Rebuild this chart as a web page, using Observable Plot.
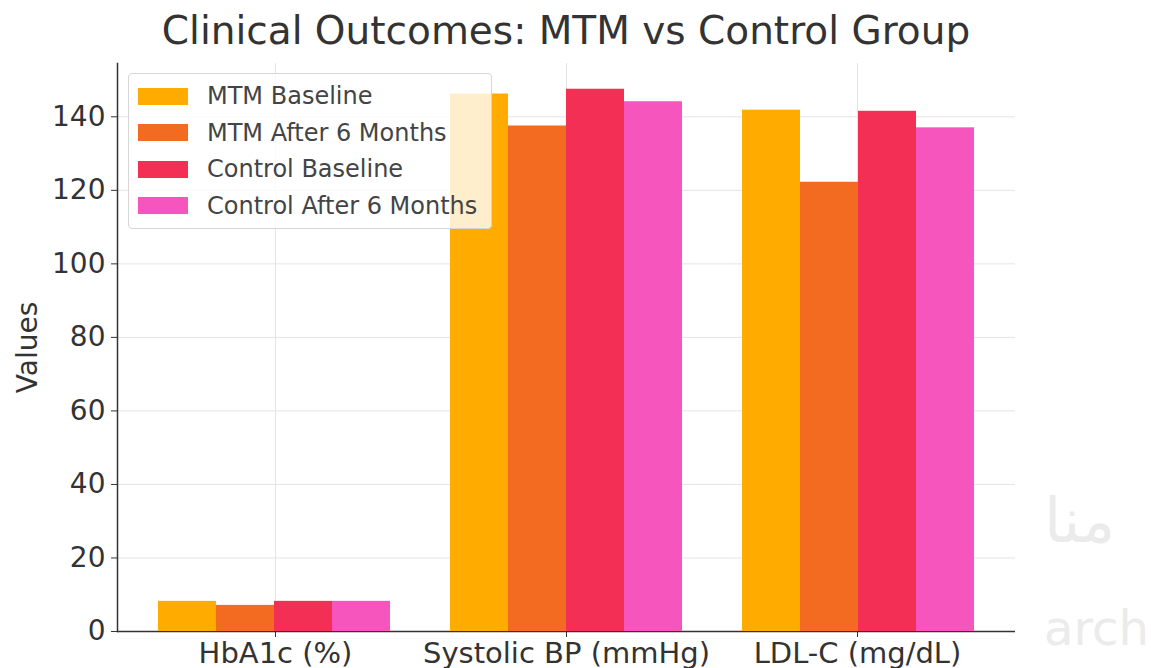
<!DOCTYPE html>
<html>
<head>
<meta charset="utf-8">
<script src="https://cdn.jsdelivr.net/npm/d3@7"></script>
<script src="https://cdn.jsdelivr.net/npm/@observablehq/plot@0.6"></script>
<style>
  html, body { margin: 0; padding: 0; background: #fff; }
  body { width: 1151px; height: 668px; overflow: hidden; position: relative; font-family: "DejaVu Sans", sans-serif; }
  #title { position: absolute; left: 117px; width: 898px; top: 11px; line-height: 40px; text-align: center; font-size: 39px; color: #333; white-space: nowrap; }
  .layer { position: absolute; left: 0; top: 0; }
  #legend { position: absolute; left: 128px; top: 73px; width: 364px; height: 156px; box-sizing: border-box;
    background: rgba(255,255,255,0.8); border: 1px solid #d6d6d6; border-radius: 4px; }
  .item { position: absolute; left: 9px; height: 24px; display: flex; align-items: center; font-size: 24px; color: #444; white-space: nowrap; }
  .sw { width: 50px; height: 17px; margin-right: 19px; }
  .wm { position: absolute; color: #ebebeb; font-family: "DejaVu Sans", sans-serif; white-space: nowrap; }
</style>
</head>
<body>
<div id="axes" class="layer"></div>
<div id="bars" class="layer"></div>
<div id="title"></div>
<div id="legend"></div>
<div class="wm" style="left:1044px; top:484px; font-size:62px; font-weight:200;">منا</div>
<div class="wm" style="left:1044px; top:600px; font-size:48px;">arch</div>
<script>
const title = "Clinical Outcomes: MTM vs Control Group";
const metrics = ["HbA1c (%)", "Systolic BP (mmHg)", "LDL-C (mg/dL)"];
const seriesNames = ["MTM Baseline", "MTM After 6 Months", "Control Baseline", "Control After 6 Months"];
const colors = ["#FFAB00", "#F26B21", "#F42F56", "#F655BE"];
const mtmBaseline = [8.2, 146.2, 141.8];
const mtmAfter = [7.1, 137.5, 122.2];
const controlBaseline = [8.2, 147.5, 141.5];
const controlAfter = [8.2, 144.1, 137.0];
const yTicks = [0, 20, 40, 60, 80, 100, 120, 140];
const yLabel = "Values";

const seriesValues = [mtmBaseline, mtmAfter, controlBaseline, controlAfter];
const data = [];
metrics.forEach((m, i) => seriesValues.forEach((vals, s) => data.push({metric: m, series: seriesNames[s], value: vals[i]})));

document.getElementById("title").textContent = title;

const common = {
  width: 1151,
  height: 668,
  marginLeft: 117,
  marginRight: 136,
  marginTop: 63,
  marginBottom: 37,
  style: {fontFamily: "DejaVu Sans, sans-serif", color: "#333", background: "transparent", overflow: "visible"}
};
const yScale = {domain: [0, 154.5], label: null};

// Layer 1: grid, axes, spines
const axesChart = Plot.plot({
  ...common,
  x: {type: "point", domain: metrics, padding: 0.5377, label: null, axis: null},
  y: {...yScale, axis: null},
  marks: [
    Plot.gridX(metrics, {stroke: "#e4e4e4", strokeOpacity: 1}),
    Plot.gridY(yTicks, {stroke: "#e4e4e4", strokeOpacity: 1}),
    Plot.axisY(yTicks, {tickSize: 6, tickPadding: 6, fontSize: 28, fill: "#333", stroke: "#333", label: null}),
    Plot.axisX(metrics, {tickSize: 6, tickPadding: 5, fontSize: 29, fill: "#333", stroke: "#333", label: null}),
    Plot.axisY({ticks: [], label: yLabel, labelAnchor: "center", labelArrow: "none", labelOffset: 100, fontSize: 28, fill: "#333"}),
    Plot.frame({anchor: "left", stroke: "#333", strokeWidth: 1.5}),
    Plot.ruleY([0], {stroke: "#333", strokeWidth: 1.5})
  ]
});
document.getElementById("axes").appendChild(axesChart);

// Layer 2: grouped bars
const barsChart = Plot.plot({
  ...common,
  fx: {domain: metrics, paddingInner: 0.2, paddingOuter: 0.1376, label: null, axis: null},
  x: {domain: seriesNames, padding: 0, axis: null},
  y: {...yScale, axis: null},
  color: {domain: seriesNames, range: colors},
  marks: [
    Plot.barY(data, {fx: "metric", x: "series", y: "value", fill: "series", inset: 0})
  ]
});
document.getElementById("bars").appendChild(barsChart);

const legend = document.getElementById("legend");
seriesNames.forEach((name, i) => {
  const it = document.createElement("div");
  it.className = "item";
  it.style.top = (10 + i * 36.5) + "px";
  it.innerHTML = `<span class="sw" style="background:${colors[i]}"></span><span></span>`;
  it.lastChild.textContent = name;
  legend.appendChild(it);
});
</script>
</body>
</html>
